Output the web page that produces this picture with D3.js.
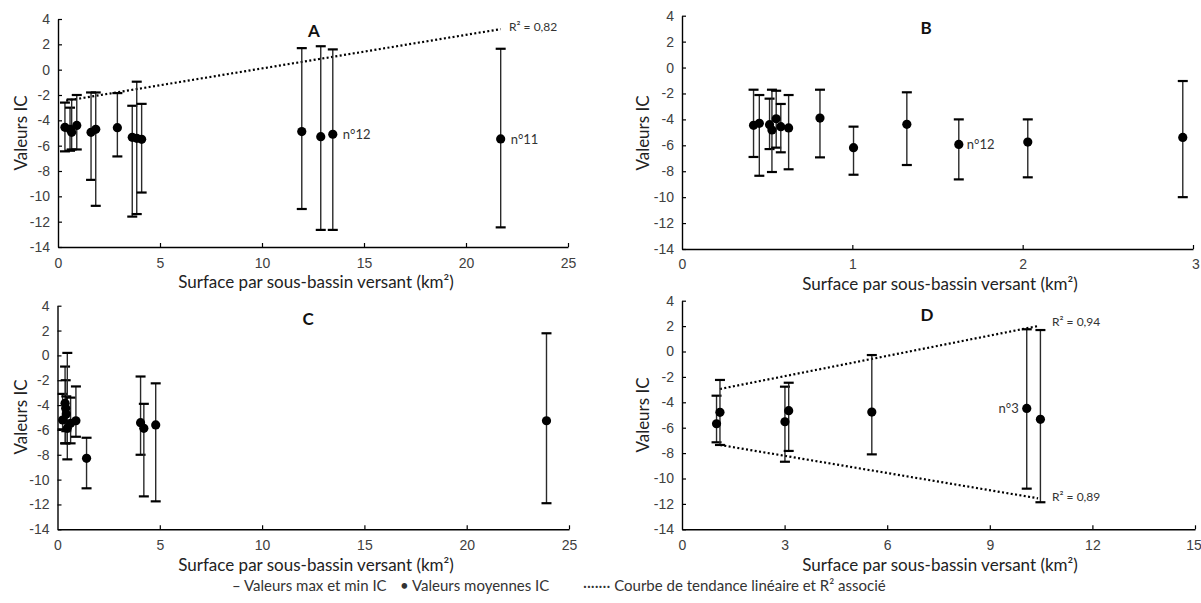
<!DOCTYPE html>
<html><head><meta charset="utf-8">
<script src="https://cdn.jsdelivr.net/npm/d3@7"></script>
<style>body{margin:0;background:#fff;}svg{display:block;font-family:Lato,"Open Sans",sans-serif;}</style>
</head><body>
<svg id="chart" width="1201" height="603"></svg>
<script>
// ---------- DATA ----------
const yTicks = [-14,-12,-10,-8,-6,-4,-2,0,2,4];

// Panel A
const aX    = [0.34,0.59,0.67,0.92,1.62,1.85,2.91,3.64,3.86,4.10,11.95,12.88,13.47,21.70];
const aMean = [-4.55,-4.71,-4.95,-4.40,-4.95,-4.71,-4.58,-5.34,-5.42,-5.50,-4.89,-5.29,-5.10,-5.47];
const aMax  = [-2.60,-3.00,-2.35,-2.00,-1.80,-1.80,-1.85,-2.85,-0.95,-2.70,1.70,1.85,1.60,1.65];
const aMin  = [-6.45,-6.40,-6.30,-6.30,-8.70,-10.75,-6.85,-11.60,-11.40,-9.70,-11.00,-12.65,-12.65,-12.45];
const aTicksX = [0,5,10,15,20,25];
const aTrendX = [0.40,21.70];
const aTrendY = [-2.45,3.20];

// Panel B
const bX    = [0.42,0.454,0.514,0.528,0.553,0.58,0.626,0.81,1.007,1.32,1.625,2.03,2.94];
const bMean = [-4.46,-4.30,-4.41,-4.82,-3.95,-4.56,-4.66,-3.90,-6.18,-4.38,-5.93,-5.75,-5.39];
const bMax  = [-1.71,-2.12,-2.40,-1.71,-1.79,-2.81,-2.12,-1.71,-4.56,-1.91,-4.00,-4.00,-1.04];
const bMin  = [-6.90,-8.35,-6.29,-8.06,-6.18,-6.54,-7.85,-6.93,-8.27,-7.52,-8.63,-8.47,-10.00];
const bTicksX = [0,1,2,3];

// Panel C
const cX    = [0.25,0.37,0.40,0.43,0.48,0.64,0.90,1.42,4.06,4.22,4.80,23.90];
const cMean = [-5.20,-3.86,-4.26,-4.72,-5.87,-5.47,-5.26,-8.29,-5.42,-5.87,-5.60,-5.26];
const cMax  = [-3.10,-0.90,-2.00,-3.30,0.20,-3.40,-2.50,-6.63,-1.70,-3.90,-2.25,1.78];
const cMin  = [-5.95,-7.08,-7.08,-6.10,-8.37,-7.08,-6.55,-10.70,-8.00,-11.35,-11.75,-11.90];
const cTicksX = [0,5,10,15,20,25];

// Panel D
const dX    = [1.01,1.11,3.01,3.12,5.55,10.08,10.48];
const dMean = [-5.69,-4.79,-5.53,-4.66,-4.77,-4.48,-5.34];
const dMax  = [-3.48,-2.24,-2.77,-2.46,-0.28,1.75,1.69];
const dMin  = [-7.15,-7.36,-8.68,-7.83,-8.10,-10.80,-11.87];
const dTicksX = [0,3,6,9,12,15];
const dTrendUpX = [1.11,10.40];
const dTrendUpY = [-2.95,2.00];
const dTrendLoX = [1.11,10.41];
const dTrendLoY = [-7.36,-11.56];

const xTitle = "Surface par sous-bassin versant (km²)";
const yTitle = "Valeurs IC";
const legendItems = ["– Valeurs max et min IC", "• Valeurs moyennes IC", "······· Courbe de tendance linéaire et R² associé"];

// ---------- DRAW ----------
const svg = d3.select("#chart");
const zip = (xs, m, mx, mn) => xs.map((x,i)=>({x, mean:m[i], max:mx[i], min:mn[i]}));

const panels = [
  {title:"A", data:zip(aX,aMean,aMax,aMin), xDomain:[0,25], xTicks:aTicksX, xr:[58,568], yr:[247,19],
   titlePos:[314,37], yTitlePos:[21,133], xTitlePos:[316,288], pad:11,
   trends:[{x:aTrendX,y:aTrendY,label:"R² = 0,82",lx:509,ly:31}],
   notes:[{t:"n°12",x:13.47,y:-5.1,dx:10},{t:"n°11",x:21.7,y:-5.47,dx:10}]},
  {title:"B", data:zip(bX,bMean,bMax,bMin), xDomain:[0,3], xTicks:bTicksX, xr:[682,1193], yr:[249,15.7],
   titlePos:[926,34], yTitlePos:[643,133], xTitlePos:[940,290], pad:10,
   trends:[], notes:[{t:"n°12",x:1.625,y:-5.93,dx:8}]},
  {title:"C", data:zip(cX,cMean,cMax,cMin), xDomain:[0,25], xTicks:cTicksX, xr:[57.5,569], yr:[529.3,305.7],
   titlePos:[308,325], yTitlePos:[21,417], xTitlePos:[316,571], pad:11,
   trends:[], notes:[]},
  {title:"D", data:zip(dX,dMean,dMax,dMin), xDomain:[0,15], xTicks:dTicksX, xr:[682,1195], yr:[529.3,300.7],
   titlePos:[927,321], yTitlePos:[643,415], xTitlePos:[940,571], pad:11,
   trends:[{x:dTrendUpX,y:dTrendUpY,label:"R² = 0,94",lx:1052,ly:326},
           {x:dTrendLoX,y:dTrendLoY,label:"R² = 0,89",lx:1052,ly:501}],
   notes:[{t:"n°3",x:10.08,y:-4.48,dx:-8,anchor:"end"}]}
];

panels.forEach(p => {
  const x = d3.scaleLinear().domain(p.xDomain).range(p.xr);
  const y = d3.scaleLinear().domain([-14,4]).range(p.yr);
  const g = svg.append("g");

  // axes
  const xa = g.append("g").attr("transform",`translate(0,${p.yr[0]})`)
    .call(d3.axisBottom(x).tickValues(p.xTicks).tickSizeInner(-4).tickSizeOuter(0).tickPadding(p.pad).tickFormat(d=>String(d)));
  const ya = g.append("g").attr("transform",`translate(${p.xr[0]},0)`)
    .call(d3.axisLeft(y).tickValues(yTicks).tickSizeInner(-4).tickSizeOuter(0).tickPadding(8).tickFormat(d=>String(d)));
  [xa,ya].forEach(a=>{
    a.select(".domain").attr("stroke","#000").attr("stroke-width",1.4);
    a.selectAll(".tick line").attr("stroke","#000").attr("stroke-width",1.2);
    a.selectAll(".tick text").attr("fill","#404040").attr("font-size",14);
  });
  xa.selectAll(".tick").filter(d=>d===0).select("line").remove();
  // keep the last x tick label inside the picture
  xa.selectAll(".tick").filter(d=>x(d)>1190).select("text").attr("text-anchor","end").attr("dx","0.45em");

  // trend lines
  p.trends.forEach(t=>{
    g.append("line").attr("x1",x(t.x[0])).attr("y1",y(t.y[0])).attr("x2",x(t.x[1])).attr("y2",y(t.y[1]))
      .attr("stroke","#000").attr("stroke-width",2.2).attr("stroke-dasharray","2,2.4");
    g.append("text").attr("x",t.lx).attr("y",t.ly).attr("font-size",12).attr("fill","#333").text(t.label);
  });

  // error bars
  const cw = 5;
  const eb = g.selectAll(".eb").data(p.data).enter().append("g");
  eb.append("line").attr("x1",d=>x(d.x)).attr("x2",d=>x(d.x)).attr("y1",d=>y(d.max)).attr("y2",d=>y(d.min))
    .attr("stroke","#2a2a2a").attr("stroke-width",1.4);
  eb.append("line").attr("x1",d=>x(d.x)-cw).attr("x2",d=>x(d.x)+cw).attr("y1",d=>y(d.max)).attr("y2",d=>y(d.max))
    .attr("stroke","#000").attr("stroke-width",2.2);
  eb.append("line").attr("x1",d=>x(d.x)-cw).attr("x2",d=>x(d.x)+cw).attr("y1",d=>y(d.min)).attr("y2",d=>y(d.min))
    .attr("stroke","#000").attr("stroke-width",2.2);
  g.selectAll(".pt").data(p.data).enter().append("circle")
    .attr("cx",d=>x(d.x)).attr("cy",d=>y(d.mean)).attr("r",4.6).attr("fill","#000");

  // annotations
  p.notes.forEach(n=>{
    g.append("text").attr("x",x(n.x)+n.dx).attr("y",y(n.y)).attr("dy","0.35em")
      .attr("text-anchor",n.anchor||"start").attr("font-size",13).attr("fill","#333").text(n.t);
  });

  // titles
  g.append("text").attr("x",p.titlePos[0]).attr("y",p.titlePos[1]).attr("text-anchor","middle")
    .attr("font-size",17).attr("font-weight","bold").attr("fill","#111").text(p.title);
  g.append("text").attr("transform",`translate(${p.yTitlePos[0]},${p.yTitlePos[1]}) rotate(-90)`)
    .attr("text-anchor","middle").attr("dy","0.35em").attr("font-size",17).attr("fill","#222").text(yTitle);
  g.append("text").attr("x",p.xTitlePos[0]).attr("y",p.xTitlePos[1]).attr("text-anchor","middle")
    .attr("font-size",17).attr("fill","#222").text(xTitle);
});

// legend
const legX = [232,400,583];
svg.selectAll(".leg").data(legendItems).enter().append("text")
  .attr("x",(d,i)=>legX[i]).attr("y",591).attr("font-size",15).attr("fill","#333").text(d=>d);
</script>
</body></html>
